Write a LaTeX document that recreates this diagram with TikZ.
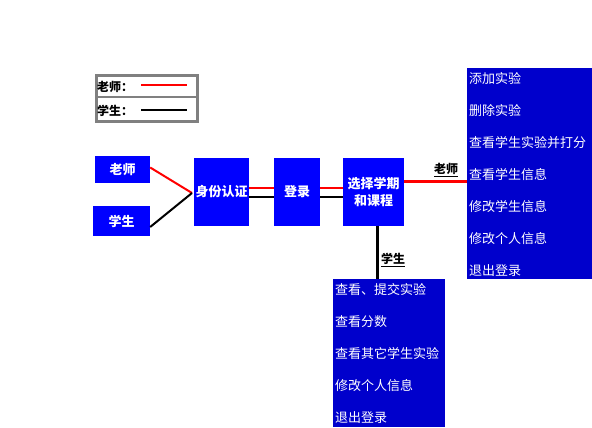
\documentclass[tikz,border=0pt]{standalone}
\usepackage{fontspec}
\setmainfont{Noto Sans CJK SC}
\definecolor{roleblue}{HTML}{0000FF}
\definecolor{menublue}{HTML}{0000CC}
\definecolor{legendgray}{HTML}{808080}
\begin{document}
\begin{tikzpicture}[x=1pt,y=-1pt,
  stepnode/.style={fill=roleblue,text=white,inner sep=0pt,align=center,
    font=\bfseries\fontsize{13}{17}\selectfont},
  menubox/.style={fill=menublue,inner sep=0pt},
  menuitem/.style={anchor=west,text=white,inner sep=0pt,font=\fontsize{13}{15}\selectfont},
  teacherline/.style={draw=red,line width=2pt},
  studentline/.style={draw=black,line width=2pt},
  branchlabel/.style={inner sep=0pt,font=\bfseries\fontsize{12}{14}\selectfont},
  legendtext/.style={anchor=west,inner sep=0pt,font=\bfseries\fontsize{12}{14}\selectfont}]
\useasboundingbox (0,0) rectangle (592,428);

% legend
\draw[legendgray,line width=2.5pt] (96.5,75.5) rectangle (197.5,97);
\draw[legendgray,line width=2.5pt] (96.5,97) rectangle (197.5,121.5);
\node[legendtext] (lgt) at (97,86.5) {老师：};
\node[legendtext] (lgs) at (97,110.5) {学生：};
\coordinate (lgta) at (141,85);
\coordinate (lgtb) at (187,85);
\coordinate (lgsa) at (141,110);
\coordinate (lgsb) at (187,110);
\draw[red,line width=2.5pt] (lgta) -- (lgtb);
\draw[black,line width=2.5pt] (lgsa) -- (lgsb);

% roles and steps
\node[stepnode,minimum width=55pt,minimum height=27pt] (teacher) at (122.5,169.5) {老师};
\node[stepnode,minimum width=57pt,minimum height=30pt] (student) at (121.5,221) {学生};
\node[stepnode,minimum width=55pt,minimum height=68pt] (auth) at (221.5,192) {身份认证};
\node[stepnode,minimum width=46pt,minimum height=68pt] (login) at (297,192) {登录};
\node[stepnode,minimum width=61pt,minimum height=68pt] (sel) at (373.5,192) {选择学期\\和课程};

\coordinate (join) at (192,193);
\draw[teacherline] ([yshift=2pt]teacher.east) -- (join);
\draw[studentline] ([yshift=-6pt]student.east) -- (join);

\draw[teacherline] ([yshift=4pt]auth.east) -- ([yshift=4pt]login.west);
\draw[studentline] ([yshift=-5pt]auth.east) -- ([yshift=-5pt]login.west);
\draw[teacherline] ([yshift=4pt]login.east) -- ([yshift=4pt]sel.west);
\draw[studentline] ([yshift=-5pt]login.east) -- ([yshift=-5pt]sel.west);

% menus
\node[menubox,minimum width=125pt,minimum height=211pt] (tmenu) at (529.5,173.5) {};
\node[menubox,minimum width=112pt,minimum height=148pt] (smenu) at (389,353) {};

\foreach \txt [count=\i] in {添加实验,删除实验,查看学生实验并打分,查看学生信息,修改学生信息,修改个人信息,退出登录}
  \node[menuitem] (ti\i) at (469,{78.5+32*(\i-1)}) {\txt};
\foreach \txt [count=\i] in {查看、提交实验,查看分数,查看其它学生实验,修改个人信息,退出登录}
  \node[menuitem] (si\i) at (335,{289.5+32*(\i-1)}) {\txt};

% branches
\coordinate (tb) at ([yshift=11pt]sel.east);
\draw[red,line width=3pt] (tb) -- (tb -| tmenu.west);
\node[branchlabel] (tlabel) at (446,170) {\underline{老师}};
\coordinate (sb) at ([xshift=3.5pt]sel.south);
\draw[black,line width=3pt] (sb) -- (sb |- smenu.north);
\node[branchlabel] (slabel) at (393,260) {\underline{学生}};
\end{tikzpicture}
\end{document}
